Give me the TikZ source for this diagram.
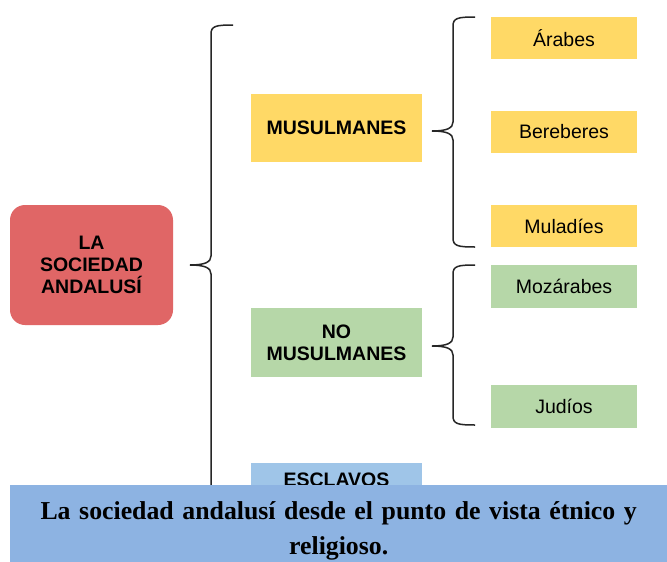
\documentclass[tikz,border=0pt]{standalone}
\usepackage{fontspec}
\setmainfont{Liberation Serif}
\setsansfont{Liberation Sans}
\definecolor{rojo}{HTML}{E06666}
\definecolor{amarillo}{HTML}{FFD966}
\definecolor{verde}{HTML}{B6D7A8}
\definecolor{azul}{HTML}{9FC5E8}
\definecolor{pie}{HTML}{8DB3E2}
\tikzset{
caja/.style={inner sep=0pt,align=center,text=black,font=\sffamily\fontsize{19.5}{22}\selectfont},
grupo/.style={caja,minimum width=171,minimum height=68,font=\sffamily\bfseries\fontsize{19.5}{22}\selectfont},
etnia/.style={caja,minimum width=146,minimum height=42},
llave/.style={line width=1.5pt,black!85}
}
% x de la linea, y arriba, y de la punta, y abajo
\newcommand{\llave}[4]{\draw[llave](#1+22,#2)..controls(#1+5,#2)and(#1,#2+1)..(#1,#2+9)--(#1,#3-9)
..controls(#1,#3-3)and(#1-6,#3)..(#1-21,#3)..controls(#1-6,#3)and(#1,#3+3)..(#1,#3+9)
--(#1,#4-9)..controls(#1,#4-1)and(#1+5,#4)..(#1+22,#4);}
\begin{document}
\begin{tikzpicture}[x=1pt,y=-1pt]
\useasboundingbox[fill=white](0,0)rectangle(667,562);
\node[grupo,fill=rojo,minimum width=163,minimum height=120,rounded corners=15pt](raiz)at(91.5,265){LA\\SOCIEDAD\\ANDALUSÍ};
\node[grupo,fill=amarillo](musul)at(336.5,128){MUSULMANES};
\node[grupo,fill=verde,minimum height=69](nomusul)at(336.5,342.5){NO\\MUSULMANES};
\node[grupo,fill=azul,minimum height=34](esclavos)at(336.5,480){ESCLAVOS};
\node[etnia,fill=amarillo](arabes)at(564,38){Árabes};
\node[etnia,fill=amarillo](bereberes)at(564,132){Bereberes};
\node[etnia,fill=amarillo](muladies)at(564,226){Muladíes};
\node[etnia,fill=verde,minimum height=43](mozarabes)at(564,286.5){Mozárabes};
\node[etnia,fill=verde,minimum height=43](judios)at(564,406.5){Judíos};
\llave{211}{25}{265}{505}
\llave{453}{17}{131}{247}
\llave{453}{265}{346}{425}
\node[anchor=north west,fill=pie,inner sep=0pt,minimum width=657,minimum height=91,text width=650,align=center,
font=\rmfamily\bfseries\fontsize{25.8}{35}\selectfont](pie)at(10,485){La sociedad andalusí desde el punto de vista étnico y\\religioso.};
\end{tikzpicture}
\end{document}
